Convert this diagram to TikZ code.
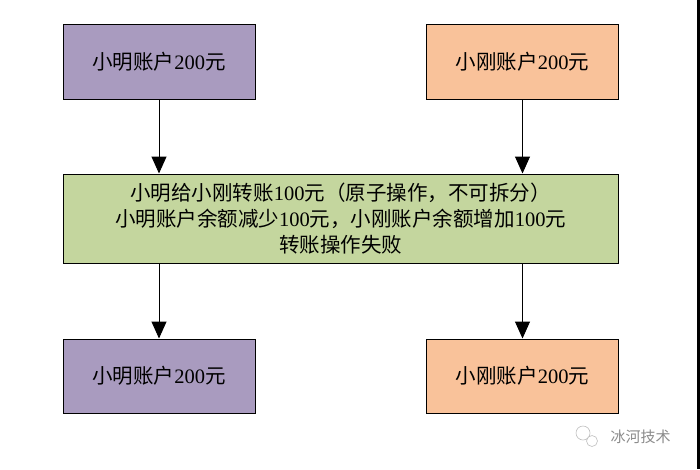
\documentclass[tikz,border=0pt]{standalone}
\usepackage{fontspec}
\setmainfont{Liberation Serif}
\newfontfamily\cjk{Noto Sans CJK SC}
\usetikzlibrary{arrows.meta}
\definecolor{purp}{HTML}{A99BBF}
\definecolor{peach}{HTML}{F9C29A}
\definecolor{olive}{HTML}{C4D69E}
\newcommand\dg[1]{{\rmfamily #1}}
\begin{document}
\begin{tikzpicture}[x=1pt,y=-1pt,
  box/.style={draw=black, line width=1pt, minimum width=192pt, minimum height=75pt,
    inner sep=0pt, align=center, font=\cjk\fontsize{20.5}{26}\selectfont},
  arr/.style={line width=1pt, -{Triangle[width=15pt,length=17pt]}},
  mark text/.style={text=black!45, font=\cjk\fontsize{15}{18}\selectfont}]
\useasboundingbox (0,0) rectangle (700,469);
\fill[white] (0,0) rectangle (700,469);
\fill[black] (697,0) rectangle (700,469);
\node[box, fill=purp] (a1) at (159,61.5) {小明账户\dg{200}元};
\node[box, fill=peach] (b1) at (522.5,61.5) {小刚账户\dg{200}元};
\node[box, fill=olive, minimum width=555pt, minimum height=89pt] (m) at (340.5,218.5)
  {小明给小刚转账\dg{100}元（原子操作，不可拆分）\\
   小明账户余额减少\dg{100}元，小刚账户余额增加\dg{100}元\\
   转账操作失败};
\node[box, fill=purp, minimum height=74pt] (a2) at (159,376) {小明账户\dg{200}元};
\node[box, fill=peach, minimum height=74pt] (b2) at (522.5,376) {小刚账户\dg{200}元};
\draw[arr] (a1) -- (a1 |- m.north);
\draw[arr] (b1) -- (b1 |- m.north);
\draw[arr] (m.south -| a2) -- (a2);
\draw[arr] (m.south -| b2) -- (b2);
\node[mark text, anchor=west] (wm) at (607,437) {冰河技术};
\draw[black!25, line width=0.6pt] (583,433) circle (7pt) (592,441) circle (5.5pt);
\end{tikzpicture}
\end{document}
